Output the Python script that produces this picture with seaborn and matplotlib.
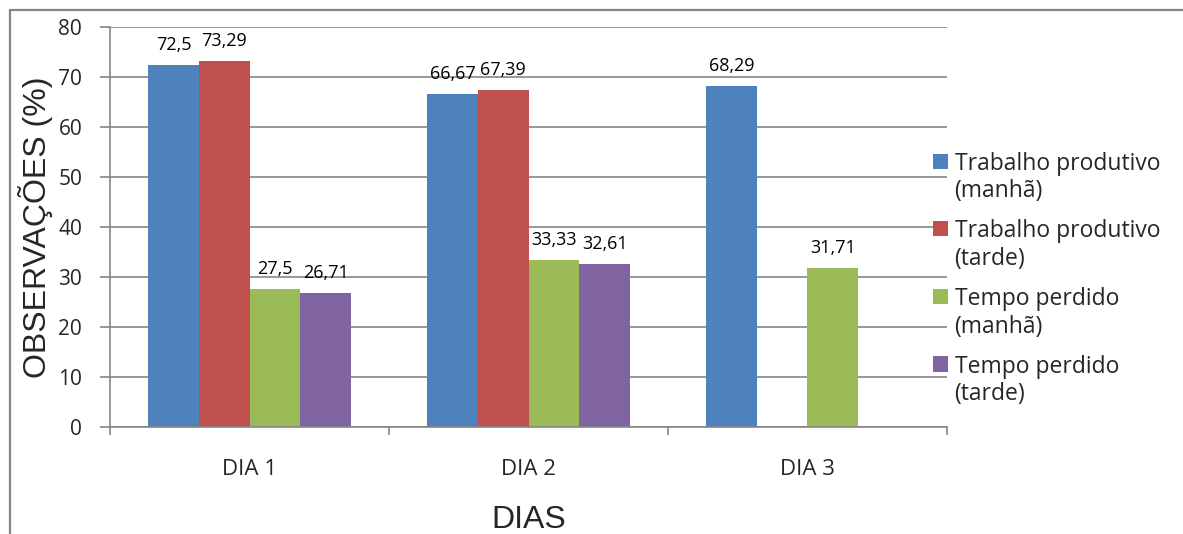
import matplotlib
matplotlib.use("Agg")
import matplotlib.pyplot as plt
from matplotlib.lines import Line2D
from matplotlib.patches import Patch, Rectangle
from matplotlib.legend_handler import HandlerPatch
from matplotlib.ticker import MultipleLocator, FixedLocator
import numpy as np
import pandas as pd
import seaborn as sns

# Data
dias = ["DIA 1", "DIA 2", "DIA 3"]
series = ["Trabalho produtivo\n(manhã)", "Trabalho produtivo\n(tarde)",
          "Tempo perdido\n(manhã)", "Tempo perdido\n(tarde)"]
trab_manha = [72.5, 66.67, 68.29]
trab_tarde = [73.29, 67.39, np.nan]
perd_manha = [27.5, 33.33, 31.71]
perd_tarde = [26.71, 32.61, np.nan]
colors = ["#4F81BD", "#C0504D", "#9BBB59", "#8064A2"]

all_values = [trab_manha, trab_tarde, perd_manha, perd_tarde]
rows = []
for s, vals in zip(series, all_values):
    for d, v in zip(dias, vals):
        rows.append({"dia": d, "serie": s, "valor": v})
df = pd.DataFrame(rows)


class FirstLineSquare(HandlerPatch):
    """Legend key drawn next to the first line of a two-line label."""

    def __init__(self, shift, **kw):
        super().__init__(**kw)
        self.shift = shift

    def create_artists(self, legend, orig_handle, xdescent, ydescent,
                       width, height, fontsize, trans):
        p = Rectangle((-xdescent, -ydescent + self.shift), width, height,
                      facecolor=orig_handle.get_facecolor(), edgecolor="none",
                      transform=trans)
        return [p]


sns.set_style("white")
plt.rcParams["font.family"] = ["Open Sans", "DejaVu Sans"]

fig = plt.figure(figsize=(11.83, 5.34), dpi=100)
ax = fig.add_axes([0.093, 0.2004, 0.7075, 0.749])

group_w = 0.727
sns.barplot(data=df.dropna(), x="dia", y="valor", hue="serie",
            order=dias, hue_order=series, palette=colors,
            width=group_w, saturation=1, ax=ax, errorbar=None,
            linewidth=0, edgecolor="none", legend=False)

# value labels above each bar
n = len(series)
w = group_w / n
for j, vals in enumerate(all_values):
    for i, v in enumerate(vals):
        if np.isnan(v):
            continue
        x = i - group_w / 2 + w * (j + 0.5)
        ax.text(x, v + 4.0, f"{v:g}".replace(".", ","), ha="center", va="center",
                fontsize=13, color="black")

ax.set_xlim(-0.5, 2.5)
ax.set_ylim(0, 80)
ax.yaxis.set_major_locator(MultipleLocator(10))
ax.grid(axis="y", color="#868686", linewidth=1.2)
ax.set_axisbelow(True)

for s in ["top", "right"]:
    ax.spines[s].set_visible(False)
for s in ["left", "bottom"]:
    ax.spines[s].set_color("#868686")
    ax.spines[s].set_linewidth(1.2)

ax.tick_params(axis="y", which="major", direction="out", length=7, width=1.2,
               color="#868686", labelsize=15, pad=13, left=True)
ax.tick_params(axis="x", which="major", length=0, labelsize=16, pad=23)
ax.xaxis.set_minor_locator(FixedLocator([-0.5, 0.5, 1.5, 2.5]))
ax.tick_params(axis="x", which="minor", direction="out", length=6, width=1.2,
               color="#868686", bottom=True)

ax.set_xlabel("DIAS", fontsize=23, family=["Liberation Sans", "DejaVu Sans"])
ax.set_ylabel("OBSERVAÇÕES (%)", fontsize=23, family=["Liberation Sans", "DejaVu Sans"])
ax.xaxis.set_label_coords(0.5, -0.232)
ax.xaxis.label.set_verticalalignment("center")
ax.yaxis.set_label_coords(-0.0896, 0.5)
ax.yaxis.label.set_verticalalignment("center")

handles = [Patch(facecolor=c) for c in colors]
leg = ax.legend(handles, series, loc="upper left", bbox_to_anchor=(0.983, 0.688),
                frameon=False, fontsize=16.5, handlelength=0.65, handleheight=0.65,
                handletextpad=0.3, labelspacing=0.7, borderaxespad=0, borderpad=0,
                handler_map={Patch: FirstLineSquare(shift=12.5)})
for t in leg.get_texts():
    t.set_linespacing(1.2)

# outer chart border (top and left edges)
fig.add_artist(Line2D([10 / 1183, 1.0], [1 - 9.5 / 534, 1 - 9.5 / 534],
                      transform=fig.transFigure, color="#868686", linewidth=1.6))
fig.add_artist(Line2D([10 / 1183, 10 / 1183], [0.0, 1 - 9.5 / 534],
                      transform=fig.transFigure, color="#868686", linewidth=1.6))

fig.savefig("out.png", dpi=100)
